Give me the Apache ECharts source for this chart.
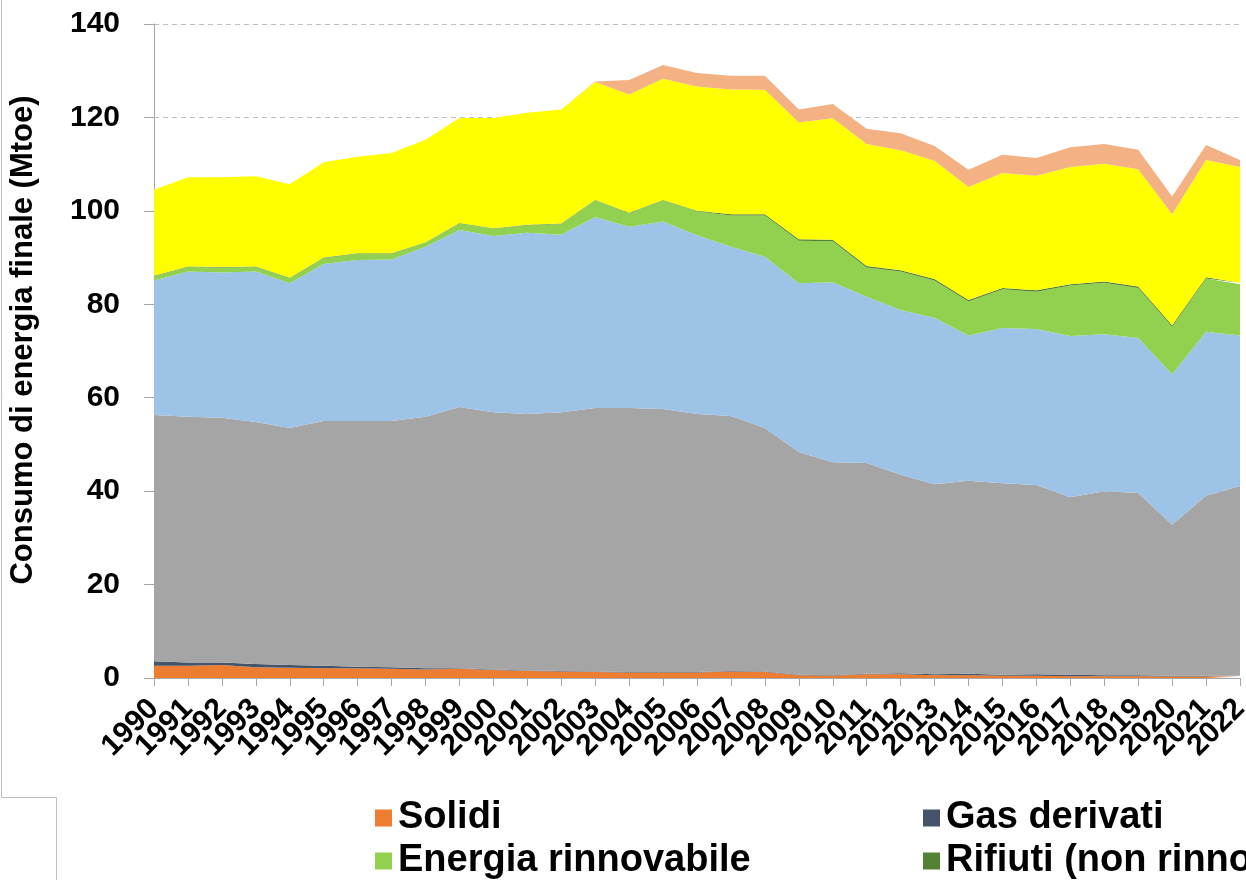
<!DOCTYPE html>
<html>
<head>
<meta charset="utf-8">
<title>Consumo di energia finale</title>
<script src="https://cdn.jsdelivr.net/npm/echarts@6/dist/echarts.min.js"></script>
<style>
    html, body { margin: 0; padding: 0; background: #fff; }
    #chart { width: 1246px; height: 880px; }
</style>
</head>
<body>
<div id="chart"></div>
<script>
const years = [];
for (let y = 1990; y <= 2022; y++) {
    years.push(String(y));
}

// Mtoe
const solidi = [2.6, 2.6, 2.8, 2.3, 2.2, 2.1, 2.1, 2.0, 1.8, 2.0, 1.7, 1.5, 1.4, 1.3, 1.2, 1.2, 1.2, 1.4, 1.3, 0.6, 0.5, 0.8, 0.8, 0.6, 0.6, 0.5, 0.5, 0.4, 0.4, 0.4, 0.3, 0.3, 0.3];
const gasDerivati = [1.0, 0.7, 0.5, 0.7, 0.6, 0.5, 0.3, 0.3, 0.3, 0.1, 0.1, 0.1, 0.1, 0.1, 0.1, 0.1, 0.1, 0.1, 0.1, 0.1, 0.1, 0.1, 0.2, 0.2, 0.3, 0.2, 0.3, 0.3, 0.2, 0.2, 0.2, 0.2, 0.2];
const petrolio = [52.7, 52.6, 52.4, 51.8, 50.7, 52.4, 52.6, 52.7, 53.8, 55.9, 55.1, 54.9, 55.4, 56.4, 56.5, 56.3, 55.2, 54.6, 52.1, 47.7, 45.6, 45.1, 42.5, 40.7, 41.3, 41.0, 40.5, 38.0, 39.4, 39.0, 32.3, 38.5, 40.6];
const gasNaturale = [28.8, 31.1, 31.1, 32.2, 31.0, 33.6, 34.5, 34.6, 36.4, 37.9, 37.7, 38.8, 38.0, 40.9, 38.8, 40.1, 38.3, 36.2, 36.7, 36.1, 38.5, 35.6, 35.3, 35.6, 31.1, 33.2, 33.4, 34.5, 33.6, 33.2, 32.2, 35.1, 32.2];
const rinnovabile = [0.9, 1.0, 1.1, 1.0, 1.1, 1.3, 1.3, 1.2, 0.9, 1.4, 1.6, 1.6, 2.3, 3.6, 2.9, 4.5, 5.1, 6.7, 8.8, 9.1, 8.8, 6.3, 8.2, 8.0, 7.3, 8.3, 8.0, 10.8, 11.0, 10.7, 10.2, 11.4, 11.0];
const rifiuti = [0.1, 0.1, 0.1, 0.1, 0.1, 0.1, 0.1, 0.1, 0.1, 0.1, 0.1, 0.1, 0.1, 0.1, 0.1, 0.1, 0.1, 0.3, 0.3, 0.3, 0.3, 0.3, 0.3, 0.3, 0.3, 0.3, 0.3, 0.3, 0.3, 0.3, 0.3, 0.3, 0.3];
const elettrica = [18.4, 19.1, 19.2, 19.3, 20.0, 20.4, 20.7, 21.5, 21.9, 22.5, 23.6, 24.0, 24.4, 25.2, 25.3, 26.0, 26.6, 26.7, 26.6, 25.0, 26.0, 26.1, 25.7, 25.3, 24.2, 24.6, 24.5, 25.1, 25.2, 25.1, 23.8, 25.1, 24.8];
const calore = [0, 0, 0, 0, 0, 0, 0, 0, 0, 0, 0, 0, 0, 0.1, 3.1, 2.9, 2.9, 2.9, 3.0, 2.8, 3.1, 3.3, 3.6, 3.2, 3.7, 3.9, 3.8, 4.2, 4.2, 4.2, 3.8, 3.2, 1.5];

const yTicks = [0, 20, 40, 60, 80, 100, 120, 140];

const font = 'Liberation Sans, Arial, sans-serif';

const layers = [
    { name: 'Solidi', data: solidi, color: '#ED7D31' },
    { name: 'Gas derivati', data: gasDerivati, color: '#44546A' },
    { name: 'Prodotti petroliferi', data: petrolio, color: '#A5A5A5' },
    { name: 'Gas naturale', data: gasNaturale, color: '#9DC3E6' },
    { name: 'Energia rinnovabile', data: rinnovabile, color: '#92D050' },
    { name: 'Rifiuti (non rinnovabili)', data: rifiuti, color: '#548235' },
    { name: 'Energia elettrica', data: elettrica, color: '#FFFF00' },
    { name: 'Calore derivato', data: calore, color: '#F4B183' }
];

const chart = echarts.init(document.getElementById('chart'));

let series = layers.map(l => {
    return {
        name: l.name,
        type: 'line',
        stack: 'totale',
        data: l.data,
        color: l.color,
        symbol: 'none',
        lineStyle: { width: 0 },
        areaStyle: { color: l.color, opacity: 1 }
    };
});

// una legenda per voce, così le colonne restano allineate come nell'originale
function legendItem(name, left, top) {
    return {
        data: [{ name: name, icon: 'rect' }],
        left: left,
        top: top,
        itemWidth: 17,
        itemHeight: 17,
        textStyle: {
            fontFamily: font,
            fontSize: 38,
            fontWeight: 'bold',
            color: '#000',
            padding: [0, 0, 0, 1]
        }
    };
}

let option = {
    animation: false,
    backgroundColor: '#fff',
    textStyle: { fontFamily: font },
    grid: {
        left: 154,
        right: 6,
        top: 24,
        bottom: 202,
        containLabel: false,
        outerBoundsMode: 'none'
    },
    legend: [
        legendItem('Solidi', 370, 794),
        legendItem('Gas derivati', 918, 794),
        legendItem('Energia rinnovabile', 370, 837),
        legendItem('Rifiuti (non rinnovabili)', 918, 837)
    ],
    xAxis: {
        type: 'category',
        boundaryGap: false,
        data: years,
        axisLine: { lineStyle: { color: '#A6A6A6', width: 1 } },
        axisTick: { show: true, interval: 0, length: 8, lineStyle: { color: '#A6A6A6' } },
        axisLabel: {
            interval: 0,
            rotate: 45,
            margin: 26,
            fontSize: 30,
            fontWeight: 'bold',
            color: '#000'
        }
    },
    yAxis: {
        type: 'value',
        min: yTicks[0],
        max: yTicks[yTicks.length - 1],
        interval: yTicks[1] - yTicks[0],
        name: 'Consumo di energia finale (Mtoe)',
        nameLocation: 'middle',
        nameGap: 115,
        nameMoveOverlap: false,
        nameTextStyle: {
            fontSize: 31,
            fontWeight: 'bold',
            color: '#000',
            padding: [0, 0, 0, 22]
        },
        axisLine: { show: true, lineStyle: { color: '#A6A6A6', width: 1 } },
        axisTick: { show: true, length: 10, lineStyle: { color: '#A6A6A6' } },
        axisLabel: {
            margin: 34,
            fontSize: 30,
            fontWeight: 'bold',
            color: '#000'
        },
        splitLine: {
            show: true,
            lineStyle: { color: '#BFBFBF', type: [5, 4], width: 1 }
        }
    },
    graphic: [{
        type: 'polyline',
        silent: true,
        shape: { points: [[1.5, 0], [1.5, 797.5], [56.5, 797.5], [56.5, 880]] },
        style: { stroke: '#BFBFBF', lineWidth: 1, fill: null }
    }],
    series: series
};

chart.setOption(option);
</script>
</body>
</html>
